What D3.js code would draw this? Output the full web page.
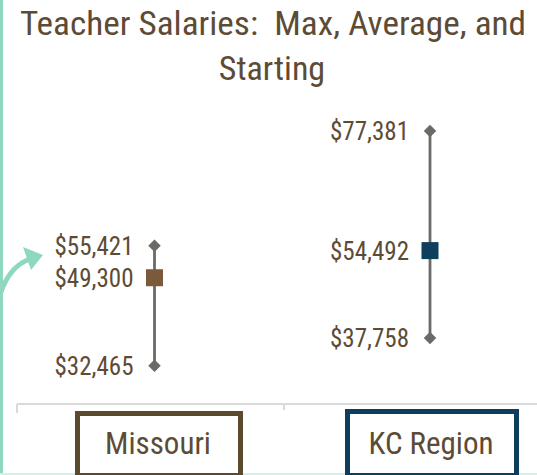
<!DOCTYPE html>
<html>
<head>
<meta charset="utf-8">
<script src="https://cdn.jsdelivr.net/npm/d3@7"></script>
<style>
  html, body { margin: 0; padding: 0; background: #fff; }
  svg { display: block; }
</style>
</head>
<body>
<svg id="chart" width="537" height="475"></svg>
<script>
// data
var regions = ["Missouri", "KC Region"];
var maxSalary = [55421, 77381];
var avgSalary = [49300, 54492];
var startSalary = [32465, 37758];
var regionColors = ["#7a5a3a", "#0e3d5e"];
var boxColors = ["#5c4a30", "#0e3d5e"];

var svg = d3.select("#chart");
var brown = "#5e4b35";
var font = "'Liberation Sans Narrow', 'Roboto Condensed', 'DejaVu Sans Condensed', sans-serif";

// scales
var x = d3.scalePoint().domain(regions).range([154.5, 430]);
var xAxisScale = d3.scaleBand().domain(regions).range([17, 551]);
var y = d3.scaleLinear().domain([30000, 80000]).range([378.6, 117.3]);

// left accent bar and bottom rule
svg.append("rect").attr("x", 0).attr("y", 0).attr("width", 3).attr("height", 475).attr("fill", "#8fd8c0");
svg.append("line").attr("x1", 0).attr("x2", 537).attr("y1", 474).attr("y2", 474)
    .attr("stroke", "#d6efe8").attr("stroke-width", 2);

// title
var title = svg.append("text")
    .attr("text-anchor", "middle")
    .attr("font-family", font)
    .attr("font-size", 34)
    .attr("fill", brown);
title.append("tspan").attr("x", 273).attr("y", 35)
    .attr("textLength", 506).attr("lengthAdjust", "spacingAndGlyphs")
    .text("Teacher Salaries:\u00A0 Max, Average, and");
title.append("tspan").attr("x", 272).attr("y", 80).text("Starting");

// category axis
var axisY = 404;
svg.append("line").attr("x1", 17).attr("x2", 537).attr("y1", axisY).attr("y2", axisY)
    .attr("stroke", "#d9d9d9").attr("stroke-width", 2);
[xAxisScale("Missouri"), xAxisScale("KC Region")].forEach(function (tx, i) {
    svg.append("line").attr("x1", tx).attr("x2", tx).attr("y1", axisY)
        .attr("y2", axisY + (i === 0 ? 9 : 6))
        .attr("stroke", "#d9d9d9").attr("stroke-width", 2);
});

// high-low lines
var g = svg.append("g");
regions.forEach(function (r, i) {
    var cx = x(r);
    g.append("line")
        .attr("x1", cx).attr("x2", cx)
        .attr("y1", y(maxSalary[i])).attr("y2", y(startSalary[i]))
        .attr("stroke", "#6a6a67").attr("stroke-width", 2.8);

    // max / start diamonds
    [maxSalary[i], startSalary[i]].forEach(function (v) {
        g.append("path")
            .attr("d", d3.symbol().type(d3.symbolDiamond2).size(100)())
            .attr("transform", "translate(" + cx + "," + y(v) + ")")
            .attr("fill", "#6a6a67");
    });

    // average square
    g.append("rect")
        .attr("x", cx - 8.5).attr("y", y(avgSalary[i]) - 8.5)
        .attr("width", 17).attr("height", 17)
        .attr("fill", regionColors[i]);

    // value labels
    [maxSalary[i], avgSalary[i], startSalary[i]].forEach(function (v) {
        g.append("text")
            .attr("x", cx - 21)
            .attr("y", y(v))
            .attr("dy", "0.36em")
            .attr("text-anchor", "end")
            .attr("font-family", font)
            .attr("font-size", 25)
            .attr("fill", brown)
            .text("$" + d3.format(",")(v));
    });
});

// category label boxes
var boxes = [{x: 77.5, w: 163, y: 413.5, h: 62}, {x: 347.5, w: 169, y: 411.5, h: 64}];
regions.forEach(function (r, i) {
    var b = boxes[i];
    svg.append("rect")
        .attr("x", b.x).attr("y", b.y).attr("width", b.w).attr("height", b.h)
        .attr("fill", "none").attr("stroke", boxColors[i]).attr("stroke-width", 5);
    svg.append("text")
        .attr("x", b.x + b.w / 2 - 1)
        .attr("y", 454)
        .attr("text-anchor", "middle")
        .attr("font-family", font)
        .attr("font-size", 31)
        .attr("fill", brown)
        .text(r);
});

// arrow
svg.append("path")
    .attr("d", "M1,292 Q10,266 30,259")
    .attr("fill", "none").attr("stroke", "#8fd8c0").attr("stroke-width", 5);
svg.append("path")
    .attr("d", "M43,255 L23,247 L31,270 Z")
    .attr("fill", "#8fd8c0");
</script>
</body>
</html>
